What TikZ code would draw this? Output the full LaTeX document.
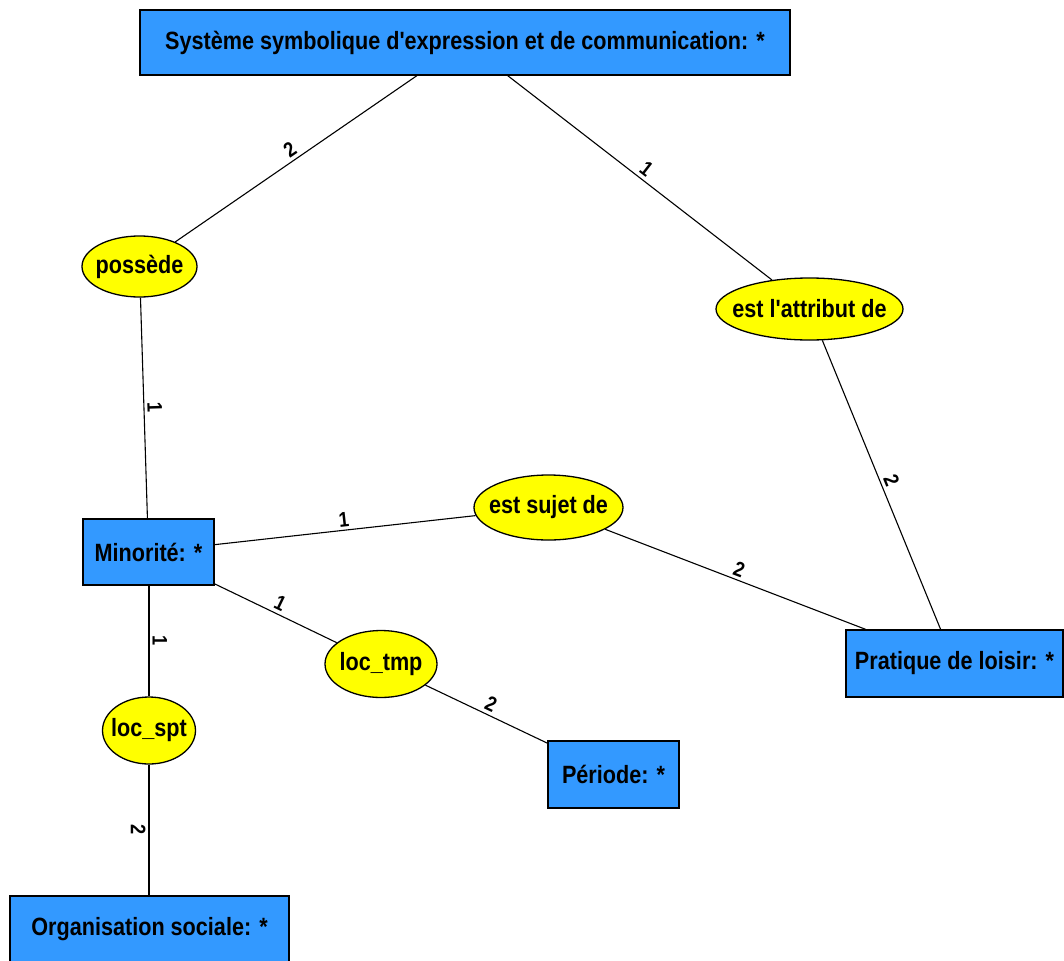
\documentclass[tikz,border=0pt]{standalone}
\usepackage{fontspec}
\setmainfont{Liberation Sans}[FakeStretch=0.865, Ligatures=TeXOff]
\usetikzlibrary{shapes.geometric}
\definecolor{boxblue}{RGB}{51,153,255}
\definecolor{ovalyellow}{RGB}{255,255,0}
\tikzset{
  entity/.style={draw=black, line width=1.3pt, fill=boxblue, rectangle, inner sep=0pt,
    font=\fontsize{25}{27}\selectfont\bfseries},
  relation/.style={draw=black, line width=1.3pt, fill=ovalyellow, ellipse, inner xsep=-14pt, inner ysep=-2pt,
    font=\fontsize{25}{27}\selectfont\bfseries},
  link/.style={draw=black, line width=1.1pt},
  card/.style={font=\fontsize{21}{23}\selectfont\bfseries, sloped, inner sep=3pt, pos=0.5}
}
\begin{document}
\begin{tikzpicture}[x=1pt, y=-1pt]
\useasboundingbox (0,0) rectangle (1064,960);
% entities
\node[entity, minimum width=650pt, minimum height=65pt] (sys) at (465,42.5) {Système symbolique d'expression et de communication: *};
\node[entity, minimum width=131pt, minimum height=66pt] (min) at (148.5,552) {Minorité: *};
\node[entity, minimum width=217pt, minimum height=67pt] (prat) at (954.5,663.5) {Pratique de loisir: *};
\node[entity, minimum width=131pt, minimum height=67pt] (per) at (613.5,774.5) {Période: *};
\node[entity, minimum width=279pt, minimum height=66pt] (org) at (149.5,929) {Organisation sociale: *};
% relations
\node[relation, minimum width=115pt, minimum height=61pt] (poss) at (139.5,266.5) {possède};
\node[relation, minimum width=187pt, minimum height=62pt] (attr) at (809.5,309) {est l'attribut de};
\node[relation, minimum width=149pt, minimum height=65pt] (suj) at (548.5,507.5) {est sujet de};
\node[relation, minimum width=112pt, minimum height=67pt] (tmp) at (381,664) {loc\_tmp};
\node[relation, minimum width=93pt, minimum height=67pt] (spt) at (149,730.5) {loc\_spt};
% connectors
\draw[link] (sys) -- node[card, above] {2} (poss);
\draw[link] (sys) -- node[card, above] {1} (attr);
\draw[link] (poss) -- node[card, above] {1} (min);
\draw[link] (attr) -- node[card, above] {2} (prat);
\draw[link] (min) -- node[card, above] {1} (suj);
\draw[link] (suj) -- node[card, above] {2} (prat);
\draw[link] (min) -- node[card, above] {1} (tmp);
\draw[link] (tmp) -- node[card, above] {2} (per);
\draw[link] (min.south -| spt.north) -- node[card, above] {1} (spt);
\draw[link] (spt) -- node[card, below] {2} (org.north -| spt.south);
\end{tikzpicture}
\end{document}
